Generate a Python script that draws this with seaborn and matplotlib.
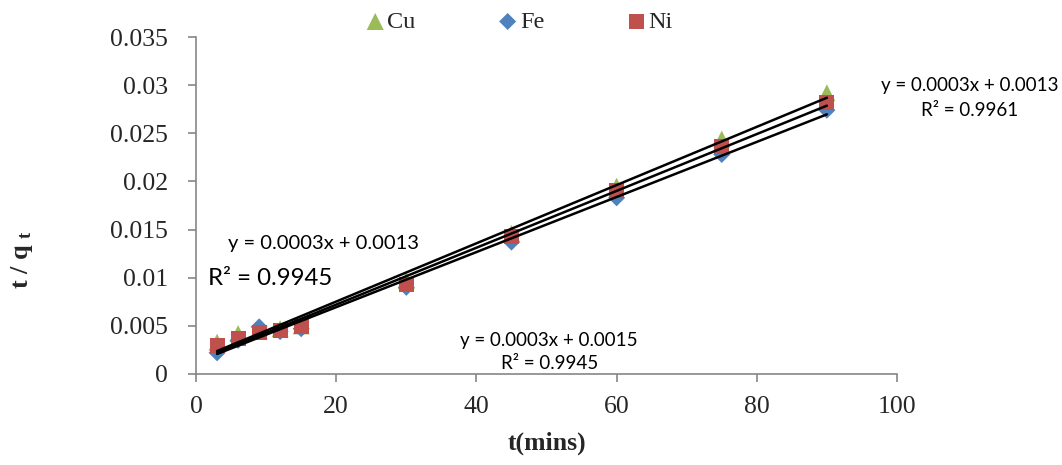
import numpy as np
import matplotlib
matplotlib.use("Agg")
import matplotlib.pyplot as plt
import seaborn as sns

# Contact time (min) and t/q_t for each metal ion
time_min = [3, 6, 9, 12, 15, 30, 45, 60, 75, 90]
cu_tq = [0.0033, 0.0042, 0.0045, 0.0047, 0.0050, 0.0097, 0.0146, 0.0195, 0.0244, 0.0292]
fe_tq = [0.0022, 0.0035, 0.0049, 0.0044, 0.0047, 0.0090, 0.0137, 0.0183, 0.0228, 0.0274]
ni_tq = [0.0030, 0.0037, 0.0043, 0.0045, 0.0049, 0.0093, 0.0143, 0.0191, 0.0236, 0.0282]

series_names = ["Cu", "Fe", "Ni"]
series_colors = ["#9BBB59", "#4F81BD", "#C0504D"]
series_markers = ["^", "D", "s"]

x_ticks = [0, 20, 40, 60, 80, 100]
y_ticks = [0, 0.005, 0.01, 0.015, 0.02, 0.025, 0.03, 0.035]
y_tick_labels = ["0", "0.005", "0.01", "0.015", "0.02", "0.025", "0.03", "0.035"]

# Trendline equation labels: (text, x, y, size, ha)
eq_labels = [
    ("y = 0.0003x + 0.0013", 110.4, 0.0300, 13.5, "center"),
    ("R² = 0.9961", 110.4, 0.0274, 13.5, "center"),
    ("y = 0.0003x + 0.0013", 4.6, 0.0136, 14.5, "left"),
    ("R² = 0.9945", 1.7, 0.0099, 17.3, "left"),
    ("y = 0.0003x + 0.0015", 50.4, 0.0035, 13.5, "center"),
    ("R² = 0.9945", 50.4, 0.0011, 13.5, "center"),
]

sns.set_theme(style="white")
plt.rcParams["font.family"] = ["Liberation Serif", "DejaVu Serif"]
plt.rcParams["mathtext.fontset"] = "custom"
plt.rcParams["mathtext.rm"] = "Liberation Serif"
plt.rcParams["mathtext.bf"] = "Liberation Serif:bold"

fig = plt.figure(figsize=(10.62, 4.65), dpi=100)
ax = fig.add_axes([0.1846, 0.1957, 0.66, 0.7247])

series_values = [cu_tq, fe_tq, ni_tq]
marker_sizes = [150, 75, 117]
for name, vals, col, mk, ms in zip(series_names, series_values, series_colors,
                                   series_markers, marker_sizes):
    sns.scatterplot(x=time_min, y=vals, ax=ax, marker=mk, color=col, s=ms,
                    edgecolor="none", label=name, zorder=2)

for vals in series_values:
    sns.regplot(x=np.array(time_min), y=np.array(vals), ax=ax, scatter=False,
                ci=None, truncate=True, color="black",
                line_kws={"linewidth": 1.8, "zorder": 3})

ax.set_xlim(0, 100)
ax.set_ylim(0, 0.035)
ax.set_xticks(x_ticks)
ax.set_xticklabels([str(v) for v in x_ticks])
ax.set_yticks(y_ticks)
ax.set_yticklabels(y_tick_labels)
ax.tick_params(axis="both", labelsize=18.5, length=6, width=1.2, color="#868686",
               direction="out", left=True, bottom=True)
ax.tick_params(axis="y", pad=14)
ax.tick_params(axis="x", pad=9.5)

for side in ["top", "right"]:
    ax.spines[side].set_visible(False)
for side in ["left", "bottom"]:
    ax.spines[side].set_color("#868686")
    ax.spines[side].set_linewidth(1.2)

ax.set_xlabel("t(mins)", fontsize=18.5, fontweight="bold", labelpad=10)
ax.set_ylabel(r"t / q $\mathbf{_{t}}$", fontsize=19, fontweight="bold")
ax.yaxis.set_label_coords(-0.23, 0.34)

for text, x, y, size, ha in eq_labels:
    ax.text(x, y, text, fontsize=size, ha=ha, va="center", clip_on=False,
            family=["Lato", "DejaVu Sans"], color="black")

leg = ax.legend(loc="center", bbox_to_anchor=(0.459, 1.045), ncol=3,
                frameon=False, fontsize=17.5, handletextpad=0.0,
                handlelength=1.0, columnspacing=3.28, markerscale=1.0)

fig.savefig("out.png", dpi=100)
